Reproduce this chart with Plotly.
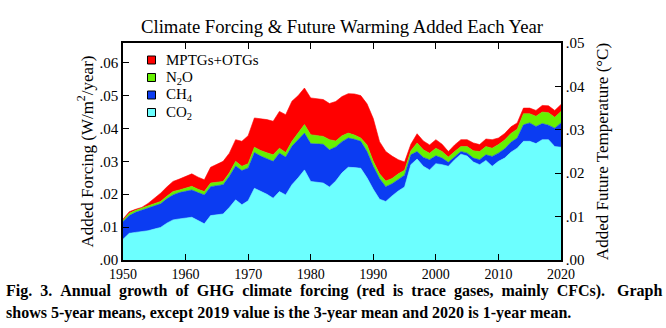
import plotly.graph_objects as go

years = list(range(1950, 2021))

co2 = [0.0063, 0.0081, 0.0084, 0.0086, 0.0089, 0.0094, 0.0099, 0.0112, 0.0122, 0.0125,
       0.0128, 0.0130, 0.0120, 0.0110, 0.0135, 0.0138, 0.0140, 0.0160, 0.0183, 0.0168,
       0.0180, 0.0218, 0.0210, 0.0200, 0.0188, 0.0208, 0.0198, 0.0229, 0.0250, 0.0274,
       0.0239, 0.0237, 0.0234, 0.0222, 0.0240, 0.0265, 0.0282, 0.0281, 0.0279, 0.0250,
       0.0215, 0.0185, 0.0178, 0.0195, 0.0210, 0.0222, 0.0290, 0.0307, 0.0285, 0.0274,
       0.0293, 0.0290, 0.0285, 0.0305, 0.0322, 0.0316, 0.0298, 0.0290, 0.0303, 0.0285,
       0.0300, 0.0310, 0.0328, 0.0340, 0.0361, 0.0361, 0.0354, 0.0366, 0.0366, 0.0345,
       0.0343]
ch4 = [0.0054, 0.0054, 0.0061, 0.0066, 0.0068, 0.0070, 0.0072, 0.0074, 0.0076, 0.0080,
       0.0081, 0.0083, 0.0085, 0.0088, 0.0088, 0.0088, 0.0089, 0.0095, 0.0103, 0.0104,
       0.0100, 0.0109, 0.0106, 0.0108, 0.0112, 0.0117, 0.0115, 0.0117, 0.0115, 0.0112,
       0.0115, 0.0117, 0.0118, 0.0113, 0.0104, 0.0095, 0.0089, 0.0086, 0.0082, 0.0080,
       0.0070, 0.0063, 0.0045, 0.0037, 0.0036, 0.0036, 0.0030, 0.0023, 0.0027, 0.0031,
       0.0024, 0.0020, 0.0012, 0.0010, 0.0008, 0.0009, 0.0012, 0.0015, 0.0017, 0.0030,
       0.0025, 0.0028, 0.0030, 0.0031, 0.0050, 0.0056, 0.0052, 0.0049, 0.0044, 0.0056,
       0.0074]
n2o = [0.0004, 0.0007, 0.0006, 0.0006, 0.0008, 0.0009, 0.0007, 0.0008, 0.0010, 0.0008,
       0.0010, 0.0011, 0.0010, 0.0010, 0.0011, 0.0011, 0.0010, 0.0010, 0.0014, 0.0013,
       0.0013, 0.0016, 0.0017, 0.0018, 0.0020, 0.0015, 0.0014, 0.0015, 0.0020, 0.0026,
       0.0027, 0.0025, 0.0024, 0.0031, 0.0018, 0.0018, 0.0015, 0.0013, 0.0010, 0.0020,
       0.0015, 0.0014, 0.0017, 0.0016, 0.0016, 0.0015, 0.0012, 0.0026, 0.0023, 0.0020,
       0.0023, 0.0020, 0.0016, 0.0015, 0.0015, 0.0020, 0.0022, 0.0025, 0.0025, 0.0025,
       0.0026, 0.0027, 0.0027, 0.0027, 0.0034, 0.0028, 0.0031, 0.0035, 0.0038, 0.0033,
       0.0035]
mptg = [0.0003, 0.0005, 0.0003, 0.0002, 0.0007, 0.0015, 0.0025, 0.0028, 0.0031, 0.0033,
        0.0036, 0.0038, 0.0037, 0.0036, 0.0048, 0.0055, 0.0061, 0.0060, 0.0066, 0.0076,
        0.0085, 0.0089, 0.0097, 0.0101, 0.0102, 0.0112, 0.0115, 0.0122, 0.0115, 0.0111,
        0.0112, 0.0111, 0.0112, 0.0110, 0.0120, 0.0119, 0.0120, 0.0125, 0.0129, 0.0125,
        0.0130, 0.0098, 0.0090, 0.0068, 0.0043, 0.0025, 0.0020, 0.0028, 0.0027, 0.0025,
        0.0026, 0.0022, 0.0017, 0.0020, 0.0021, 0.0021, 0.0024, 0.0021, 0.0023, 0.0026,
        0.0020, 0.0020, 0.0020, 0.0019, 0.0017, 0.0017, 0.0018, 0.0020, 0.0021, 0.0021,
        0.0021]

series_names = ["CO<sub>2</sub>", "CH<sub>4</sub>", "N<sub>2</sub>O", "MPTGs+OTGs"]
series_colors = ["#6cffff", "#0b3cf2", "#66f000", "#ff0000"]
series_values = [co2, ch4, n2o, mptg]

left_ticks = [0.00, 0.01, 0.02, 0.03, 0.04, 0.05, 0.06]
left_ticktext = [".00", ".01", ".02", ".03", ".04", ".05", ".06"]
right_ticks = [0.00, 0.01, 0.02, 0.03, 0.04, 0.05]
right_ticktext = [".00", ".01", ".02", ".03", ".04", ".05"]
x_ticks = [1950, 1960, 1970, 1980, 1990, 2000, 2010, 2020]

FONT = "Liberation Serif"

# plot area geometry (pixels)
ML, MR, MT, MB = 123, 105, 43, 68
W, H = 666, 328
PW, PH = W - ML - MR, H - MT - MB


def px_x(p):
    return (p - ML) / PW


def px_y(p):
    return (H - MB - p) / PH


fig = go.Figure()
for name, col, vals in zip(series_names, series_colors, series_values):
    fig.add_trace(go.Scatter(
        x=years, y=vals, stackgroup="one", mode="lines",
        line=dict(width=0.6, color=col), fillcolor=col,
        name=name, showlegend=False, hoverinfo="skip"))

# dummy trace for right axis
fig.add_trace(go.Scatter(x=[None], y=[None], yaxis="y2", showlegend=False,
                         mode="markers"))

# manual legend (top to bottom)
leg_rows = [60, 77.5, 95, 112.5]
for (name, col), ry in zip(zip(series_names[::-1], series_colors[::-1]), leg_rows):
    fig.add_shape(type="rect", xref="paper", yref="paper",
                  x0=px_x(147.5), x1=px_x(155.5), y0=px_y(ry + 4), y1=px_y(ry - 4),
                  fillcolor=col, line=dict(color="black", width=1))
    fig.add_annotation(text=name, xref="paper", yref="paper",
                       x=px_x(164), y=px_y(ry), xanchor="left", yanchor="middle",
                       showarrow=False, font=dict(family=FONT, size=15, color="black"))

fig.update_layout(
    width=W, height=H,
    margin=dict(l=ML, r=MR, t=MT, b=MB),
    paper_bgcolor="white", plot_bgcolor="white",
    font=dict(family=FONT, color="black", size=15),
    title=dict(text="Climate Forcing &amp; Future Warming Added Each Year",
               x=0.5, xref="paper", y=1 - 26.5 / H, yref="container",
               xanchor="center", yanchor="middle",
               font=dict(family=FONT, size=18.7, color="black")),
    xaxis=dict(range=[1950, 2020], tickvals=x_ticks, ticks="inside",
               ticklen=6, tickcolor="black", showline=True, linecolor="black",
               linewidth=1.5, mirror="ticks", showgrid=False, zeroline=False,
               tickfont=dict(size=14, family=FONT)),
    yaxis=dict(range=[0, 0.066], tickvals=left_ticks, ticktext=left_ticktext,
               ticks="inside", ticklen=6, tickcolor="black", showline=True,
               linecolor="black", linewidth=1.5, showgrid=False, zeroline=False,
               tickfont=dict(size=15, family=FONT),
               title=dict(text="Added Forcing (W/m<sup>2</sup>/year)",
                          font=dict(size=17, family=FONT), standoff=2)),
    yaxis2=dict(range=[0, 0.05], tickvals=right_ticks, ticktext=right_ticktext,
                overlaying="y", side="right", ticks="inside", ticklen=6,
                tickcolor="black", showline=True, linecolor="black",
                linewidth=1.5, showgrid=False, zeroline=False,
                tickfont=dict(size=15, family=FONT),
                title=dict(text="Added Future Temperature (°C)",
                           font=dict(size=17, family=FONT), standoff=12)),
    showlegend=False,
)

# caption: first line is justified in the reference (wider word spacing)
cap1_words = ["Fig.", "3.", "Annual", "growth", "of", "GHG", "climate", "forcing",
              "(red", "is", "trace", "gases,", "mainly", "CFCs).\u00a0", "Graph"]
cap1 = "<b>" + " \u00a0".join(cap1_words) + "</b>"
cap2 = "<b>shows 5-year means, except 2019 value is the 3-year mean and 2020 is 1-year mean.</b>"
for txt, ypix in [(cap1, 291), (cap2, 313)]:
    fig.add_annotation(text=txt, xref="paper", yref="paper",
                       x=px_x(4), y=px_y(ypix),
                       xanchor="left", yanchor="middle", showarrow=False,
                       font=dict(family=FONT, size=16, color="black"))

fig.write_html("out.html")
